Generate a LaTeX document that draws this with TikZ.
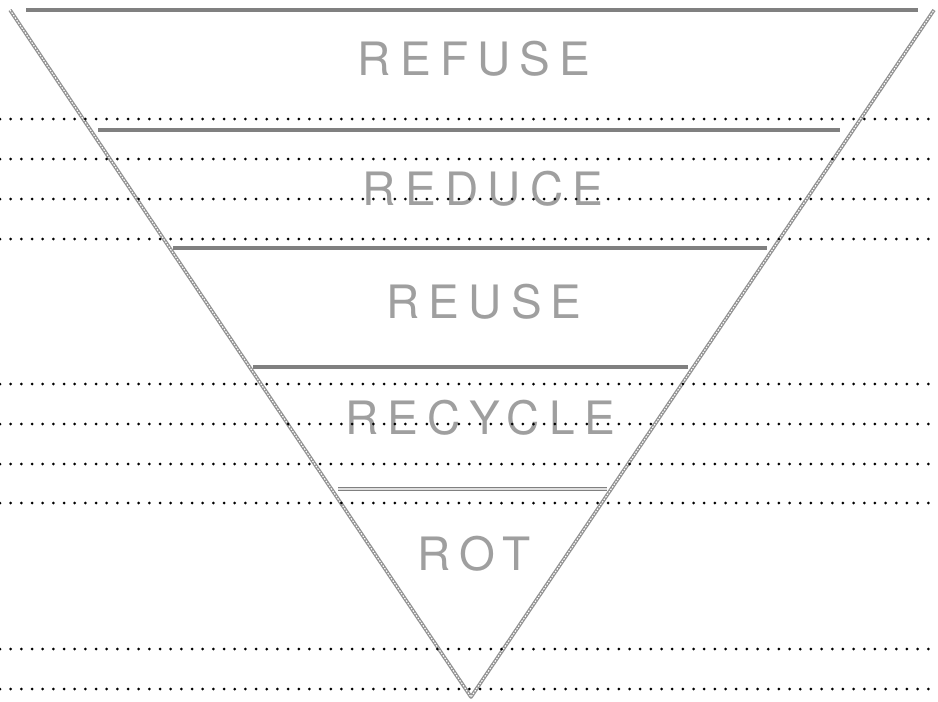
\documentclass[tikz,border=0pt]{standalone}
\usepackage{fontspec}
\newfontfamily\labelfont[LetterSpace=20]{TeX Gyre Heros}
\begin{document}
\begin{tikzpicture}[x=1pt,y=-1pt,
  dotrow/.style={line width=3pt,line cap=round,dash pattern=on 0pt off 10.67pt,black},
  edgeline/.style={draw=gray!85,line width=3.6pt,line join=round},
  edgetex/.style={draw=white,line width=1.1pt,dash pattern=on 1.6pt off 1.4pt},
  divider/.style={draw=gray,line width=4pt},
  hollowdiv/.style={draw=gray,line width=1pt,double=gray!25,double distance=2.2pt},
  word/.style={font=\labelfont\fontsize{46}{50}\selectfont,text=gray!75,inner sep=0pt,anchor=center}]
\useasboundingbox[fill=white] (0,0) rectangle (938,702);
% triangle corners
\coordinate (tl) at (10,10);
\coordinate (tr) at (934,10);
\coordinate (ap) at (471,697);
% dividers
\draw[divider] (26,10) -- (918,10);
\draw[divider] (98,130) -- (840,130);
\draw[divider] (173,248) -- (767,248);
\draw[divider] (253,367) -- (688,367);
\draw[hollowdiv] (338,489) -- (607,489);
% triangle edges
\draw[edgeline] (tl) -- (ap) -- (tr);
\draw[edgetex] (tl) -- (ap) -- (tr);
% labels
\node[word] (refuse) at (474,59) {REFUSE};
\node[word] (reduce) at (483,189) {REDUCE};
\node[word] (reuse) at (484,302) {REUSE};
\node[word] (recycle) at (480,418) {RECYCLE};
\node[word] (rot) at (474,554) {ROT};
% dotted rows
\foreach \yy in {119,159,199,239,384,424,464,503,649,689}
  \draw[dotrow] (0,\yy) -- (938,\yy);
\end{tikzpicture}
\end{document}
